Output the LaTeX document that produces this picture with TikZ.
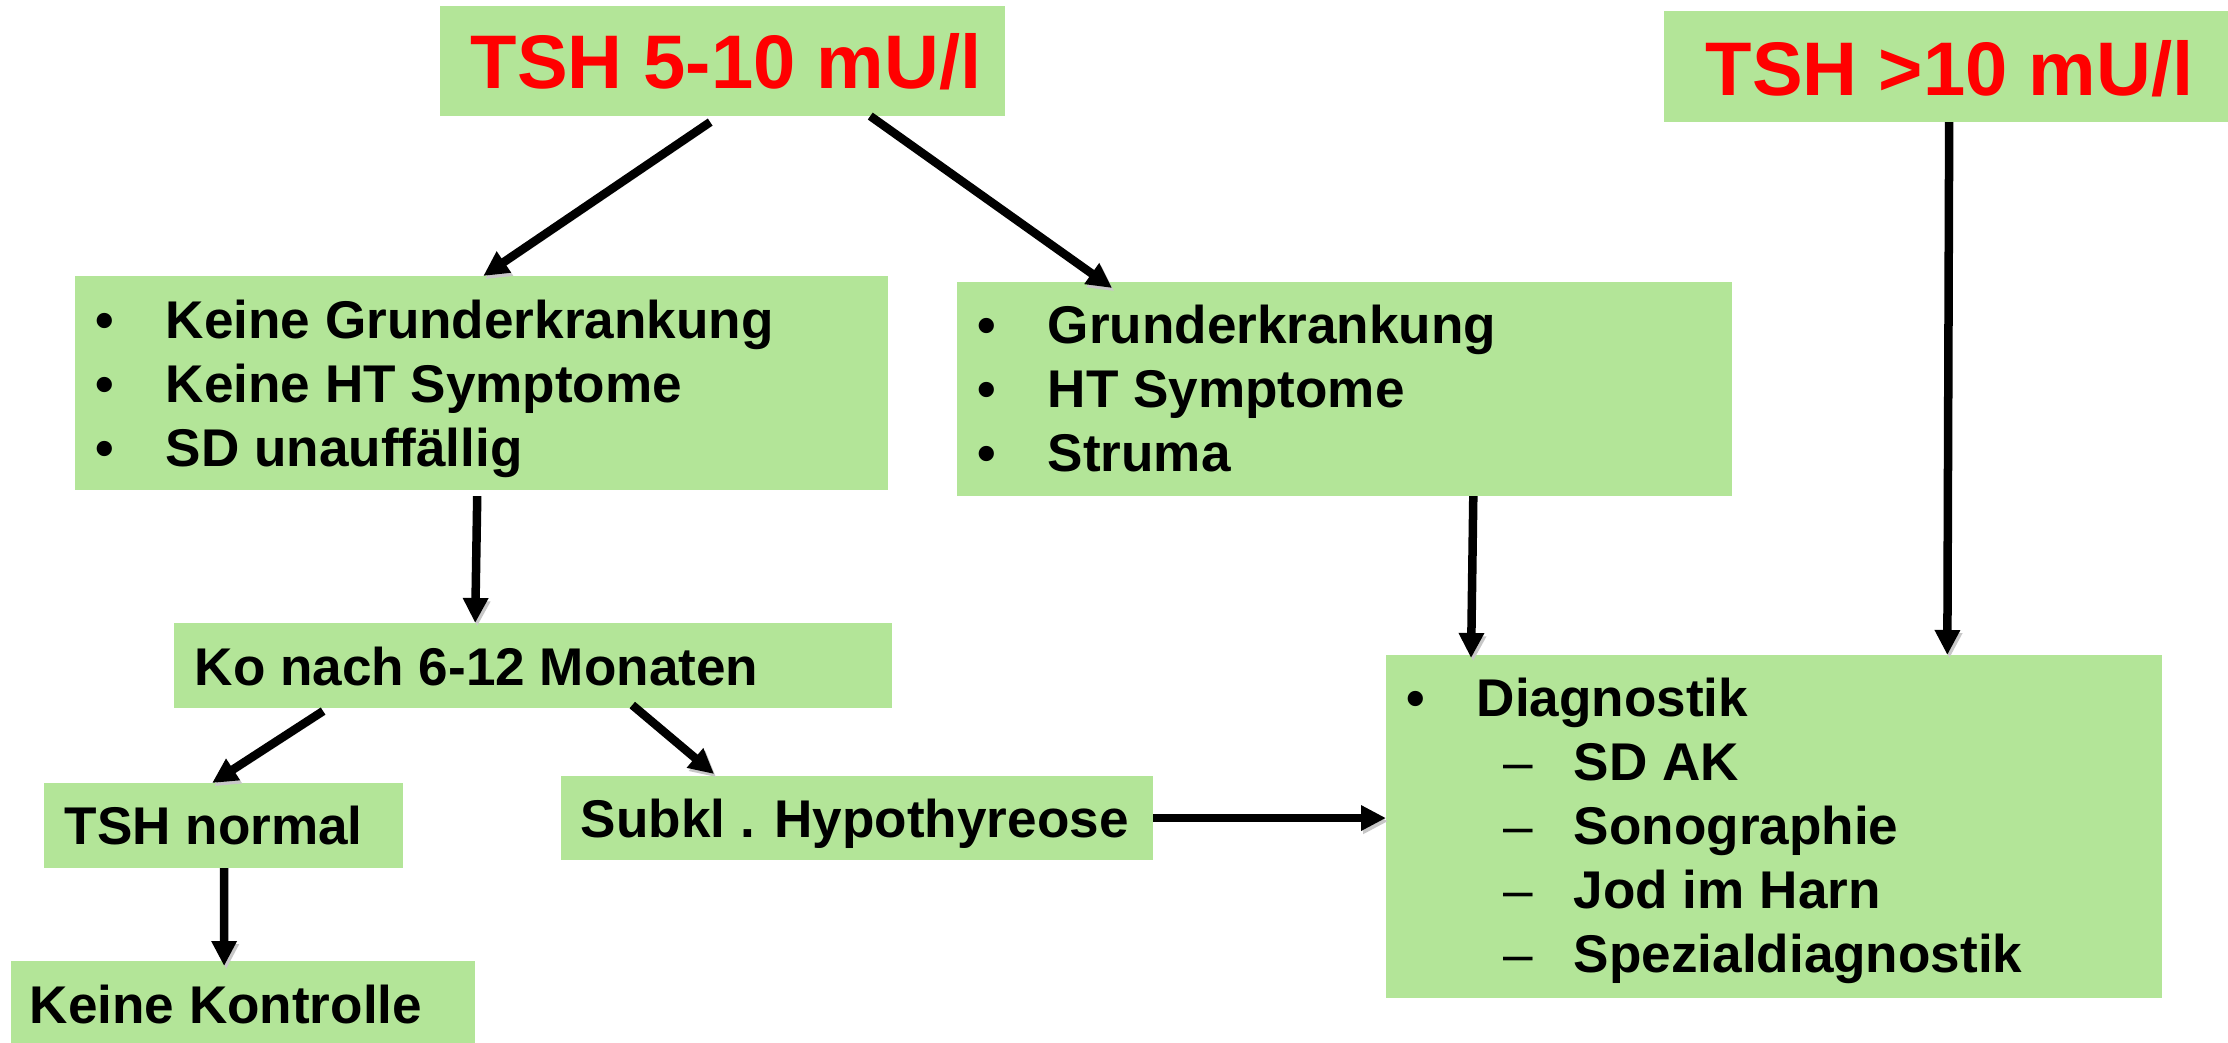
\documentclass[tikz,border=0pt]{standalone}
\usepackage{fontspec}
\setmainfont{Liberation Sans}
\usetikzlibrary{arrows.meta}

\definecolor{boxgreen}{RGB}{179,229,152}
\definecolor{titlered}{RGB}{255,0,0}
\newcommand{\blt}{\makebox[0.70cm][l]{•}}
\newcommand{\dsh}{\hspace{0.97cm}\makebox[0.70cm][l]{\mdseries –}}

\begin{document}
\begin{tikzpicture}[x=0.01cm, y=-0.01cm,
  box/.style={fill=boxgreen, anchor=north west, inner sep=0, outer sep=0},
  txt/.style={anchor=base west, inner sep=0, font=\fontsize{15.1pt}{18.2pt}\selectfont\bfseries},
  ttl/.style={anchor=base west, inner sep=0, text=titlered, font=\fontsize{21.6pt}{26pt}\selectfont\bfseries},
  arr/.style={line width=0.085cm, -{Triangle[length=0.25cm,width=0.24cm]},
    preaction={draw=black!22, transform canvas={xshift=0.6pt,yshift=-0.9pt}}}]
\useasboundingbox (0,0) rectangle (2228,1042);

% Boxes
\node[box, minimum width=5.65cm, minimum height=1.10cm] (tsha) at (440,6) {};
\node[box, minimum width=5.64cm, minimum height=1.11cm] (tshb) at (1664,11) {};
\node[box, minimum width=8.13cm, minimum height=2.14cm] (keine) at (75,276) {};
\node[box, minimum width=7.75cm, minimum height=2.14cm] (grund) at (957,282) {};
\node[box, minimum width=7.18cm, minimum height=0.85cm] (ko) at (174,623) {};
\node[box, minimum width=3.59cm, minimum height=0.85cm] (normal) at (44,783) {};
\node[box, minimum width=5.92cm, minimum height=0.84cm] (subkl) at (561,776) {};
\node[box, minimum width=4.64cm, minimum height=0.86cm] (kontrolle) at (11,961) {};
\node[box, minimum width=7.76cm, minimum height=3.43cm] (diag) at (1386,655) {};

% Texts
\node[ttl] (tshatext) at (470,88) {TSH 5-10 mU/l};
\node[ttl] (tshbtext) at (1705,95) {TSH >10 mU/l};
\node[txt] (keinetext) at (95,338) {\begin{tabular}[t]{@{}l@{}}
  \blt Keine Grunderkrankung\\
  \blt Keine HT Symptome\\
  \blt SD unauffällig
\end{tabular}};
\node[txt] (grundtext) at (977,343) {\begin{tabular}[t]{@{}l@{}}
  \blt Grunderkrankung\\
  \blt HT Symptome\\
  \blt Struma
\end{tabular}};
\node[txt] (kotext) at (194,685) {Ko nach 6-12 Monaten};
\node[txt] (normaltext) at (64,844) {TSH normal};
\node[txt] (subkltext) at (580,837) {Subkl . Hypothyreose};
\node[txt] (kontrolletext) at (29,1023) {Keine Kontrolle};
\node[txt] (diagtext) at (1406,716) {\begin{tabular}[t]{@{}l@{}}
  \blt Diagnostik\\
  \dsh SD AK\\
  \dsh Sonographie\\
  \dsh Jod im Harn\\
  \dsh Spezialdiagnostik
\end{tabular}};

% Arrows
\draw[arr] ([xshift=2.7cm,yshift=-0.06cm]tsha.south west) -- ([xshift=4.08cm]keine.north west);
\draw[arr] ([xshift=4.3cm]tsha.south west) -- ([xshift=1.55cm,yshift=-0.06cm]grund.north west);
\draw[arr] ([xshift=4.02cm,yshift=-0.06cm]keine.south west) -- ([xshift=3.01cm]ko.north west);
\draw[arr] ([xshift=5.16cm]grund.south west) -- ([xshift=0.85cm,yshift=-0.03cm]diag.north west);
\draw[arr] ([xshift=2.85cm]tshb.south west) -- ([xshift=5.61cm]diag.north west);
\draw[arr] ([xshift=1.49cm,yshift=-0.03cm]ko.south west) -- ([xshift=1.68cm]normal.north west);
\draw[arr] ([xshift=4.58cm,yshift=0.03cm]ko.south west) -- ([xshift=1.53cm,yshift=0.02cm]subkl.north west);
\draw[arr] ([xshift=1.8cm]normal.south west) -- ([xshift=2.13cm,yshift=-0.05cm]kontrolle.north west);
\draw[arr] (subkl.east) -- (subkl.east -| diag.west);
\end{tikzpicture}
\end{document}
